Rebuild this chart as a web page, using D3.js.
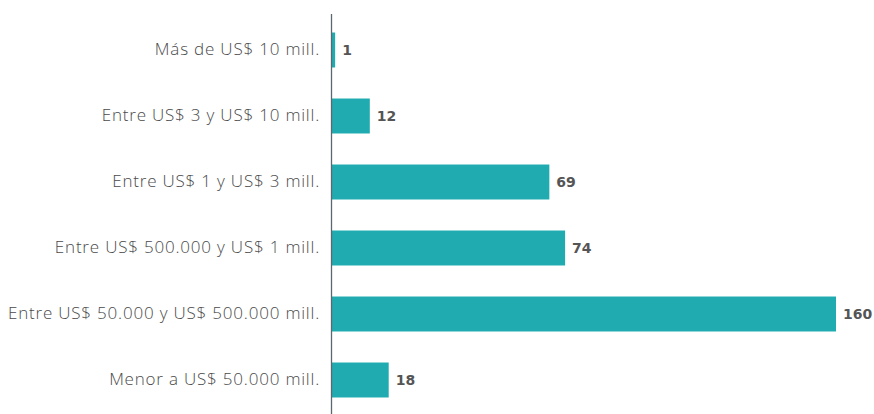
<!DOCTYPE html>
<html>
<head>
<meta charset="utf-8">
<script src="https://cdn.jsdelivr.net/npm/d3@7"></script>
<style>
  html, body { margin: 0; padding: 0; background: #fff; }
  svg { display: block; }
</style>
</head>
<body>
<svg id="chart" width="874" height="414"></svg>
<script>
// Empresas por tramo de ventas
const categories = [
  "Más de US$ 10 mill.",
  "Entre US$ 3 y US$ 10 mill.",
  "Entre US$ 1 y US$ 3 mill.",
  "Entre US$ 500.000 y US$ 1 mill.",
  "Entre US$ 50.000 y US$ 500.000 mill.",
  "Menor a US$ 50.000 mill."
];
const values = [1, 12, 69, 74, 160, 18];

const svg = d3.select("#chart");
const axisX = 332;

const x = d3.scaleLinear().domain([0, 160]).range([axisX, 836]);
const y = d3.scaleBand()
  .domain(categories)
  .range([17, 413])
  .paddingInner(0.47)
  .paddingOuter(0.235);

// Bars
svg.append("g").selectAll("rect")
  .data(values)
  .join("rect")
  .attr("x", x(0))
  .attr("y", (d, i) => y(categories[i]))
  .attr("width", d => x(d) - x(0))
  .attr("height", y.bandwidth())
  .attr("fill", "#1fabb0");

// Category axis
const axis = d3.axisLeft(y).tickSize(0).tickPadding(12);
const gAxis = svg.append("g")
  .attr("transform", `translate(${axisX},0)`)
  .call(axis);
gAxis.select(".domain").remove();
gAxis.selectAll("text")
  .attr("font-family", "'Open Sans', sans-serif")
  .attr("font-weight", 300)
  .attr("font-size", 17)
  .attr("letter-spacing", 0.8)
  .attr("fill", "#4a4a4a");

svg.append("line")
  .attr("x1", axisX - 0.5).attr("x2", axisX - 0.5)
  .attr("y1", 14).attr("y2", 414)
  .attr("stroke", "#5c6870")
  .attr("stroke-width", 1.3);

// Value labels
svg.append("g").selectAll("text")
  .data(values)
  .join("text")
  .attr("x", d => x(d) + 7)
  .attr("y", (d, i) => y(categories[i]) + y.bandwidth() / 2)
  .attr("dy", "0.35em")
  .attr("font-family", "'DejaVu Sans', sans-serif")
  .attr("font-weight", 700)
  .attr("font-size", 14)
  .attr("fill", "#555")
  .text(d => d);
</script>
</body>
</html>
